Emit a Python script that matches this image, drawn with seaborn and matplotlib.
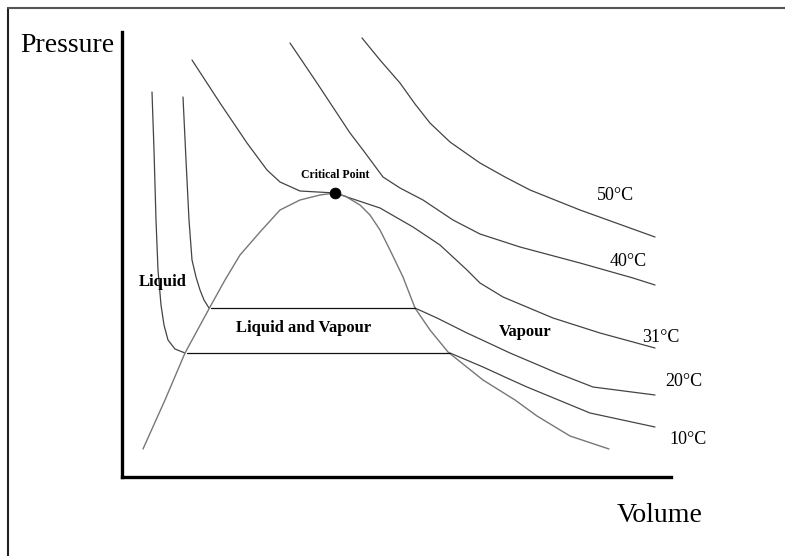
import matplotlib
matplotlib.use('Agg')
import matplotlib.pyplot as plt
import seaborn as sns
from matplotlib.lines import Line2D

# curves (volume, pressure in arbitrary units)
iso10_liq_v = [30, 32, 34, 36, 39, 42, 46, 53, 63]
iso10_liq_p = [385, 327, 257, 207, 172, 152, 137, 128, 124]
iso10_vap_v = [328, 361, 385, 405, 468, 533]
iso10_vap_p = [124, 110, 99, 90, 64, 50]
tie10_v = [65, 328]
tie10_p = [124, 124]

iso20_liq_v = [61, 64, 67, 70, 74, 78, 82, 87]
iso20_liq_p = [380, 317, 257, 217, 200, 187, 177, 169]
iso20_vap_v = [293, 315, 345, 358, 388, 435, 471, 533]
iso20_vap_p = [169, 159, 144, 138, 124, 104, 90, 82]
tie20_v = [89, 293]
tie20_p = [169, 169]

iso31_v = [70, 98, 125, 145, 158, 178, 213, 225, 258, 291, 318, 345, 358, 381, 431, 478, 533]
iso31_p = [417, 374, 334, 307, 295, 286, 284, 280, 269, 250, 232, 207, 194, 180, 159, 144, 129]

iso40_v = [168, 195, 228, 241, 261, 278, 301, 331, 358, 398, 458, 511, 533]
iso40_p = [434, 394, 344, 327, 300, 289, 277, 257, 243, 230, 214, 199, 192]

iso50_v = [240, 258, 278, 293, 308, 328, 358, 383, 408, 458, 533]
iso50_p = [439, 417, 394, 373, 354, 335, 314, 300, 287, 267, 240]

dome_v = [21, 43, 63, 88, 103, 118, 138, 158, 178, 198, 213, 223, 238, 248, 258,
          268, 281, 293, 308, 326, 361, 393, 415, 448, 487]
dome_p = [28, 77, 124, 170, 197, 222, 245, 267, 277, 282, 284, 281, 272, 262, 247,
          227, 200, 169, 147, 125, 97, 77, 61, 41, 28]

critical_v = [213]
critical_p = [284]

temp_labels = ['50°C', '40°C', '31°C', '20°C', '10°C']
temp_label_v = [493, 506, 539, 562, 566]
temp_label_p = [282, 215, 140, 95, 38]

sns.set_theme(style="white")
plt.rcParams['font.family'] = ['Liberation Serif', 'DejaVu Serif']
plt.rcParams['text.color'] = 'black'

fig = plt.figure(figsize=(7.85, 5.56), dpi=100)
ax = fig.add_axes([122 / 785, 79 / 556, 549 / 785, 445 / 556])

iso_color = '#444444'
dome_color = '#777777'

for v, p in [(iso10_liq_v, iso10_liq_p), (iso10_vap_v, iso10_vap_p),
             (iso20_liq_v, iso20_liq_p), (iso20_vap_v, iso20_vap_p),
             (iso31_v, iso31_p), (iso40_v, iso40_p), (iso50_v, iso50_p)]:
    sns.lineplot(x=v, y=p, ax=ax, sort=False, estimator=None, color=iso_color, lw=0.9)

sns.lineplot(x=dome_v, y=dome_p, ax=ax, sort=False, estimator=None, color=dome_color, lw=1.0)

for v, p in [(tie10_v, tie10_p), (tie20_v, tie20_p)]:
    sns.lineplot(x=v, y=p, ax=ax, sort=False, estimator=None, color='#111111', lw=0.9)

sns.scatterplot(x=critical_v, y=critical_p, ax=ax, color='black', s=60, zorder=5, edgecolor='black')

ax.set_xlim(0, 549)
ax.set_ylim(0, 445)
ax.set_xticks([])
ax.set_yticks([])
for side in ['top', 'right']:
    ax.spines[side].set_visible(False)
for side in ['left', 'bottom']:
    ax.spines[side].set_color('black')
    ax.spines[side].set_linewidth(2.4)

ax.text(-55, 432, 'Pressure', fontsize=20, ha='center', va='center', clip_on=False)
ax.text(538, -38, 'Volume', fontsize=20, ha='center', va='center', clip_on=False)
ax.text(213, 302, 'Critical Point', fontsize=8.5, fontweight='bold', ha='center', va='center')
ax.text(41, 195, 'Liquid', fontsize=12, fontweight='bold', ha='center', va='center')
ax.text(182, 149, 'Liquid and Vapour', fontsize=12, fontweight='bold', ha='center', va='center')
ax.text(403, 145, 'Vapour', fontsize=12, fontweight='bold', ha='center', va='center')
for lab, v, p in zip(temp_labels, temp_label_v, temp_label_p):
    ax.text(v, p, lab, fontsize=13, ha='center', va='center', clip_on=False)

# page frame (top and left edges only)
fig.add_artist(Line2D([8 / 785, 8 / 785], [0, 1 - 7.5 / 556], color='#222222', lw=1.5))
fig.add_artist(Line2D([8 / 785, 1], [1 - 7.5 / 556, 1 - 7.5 / 556], color='#555555', lw=1.5))

fig.savefig('out.png', dpi=100)
